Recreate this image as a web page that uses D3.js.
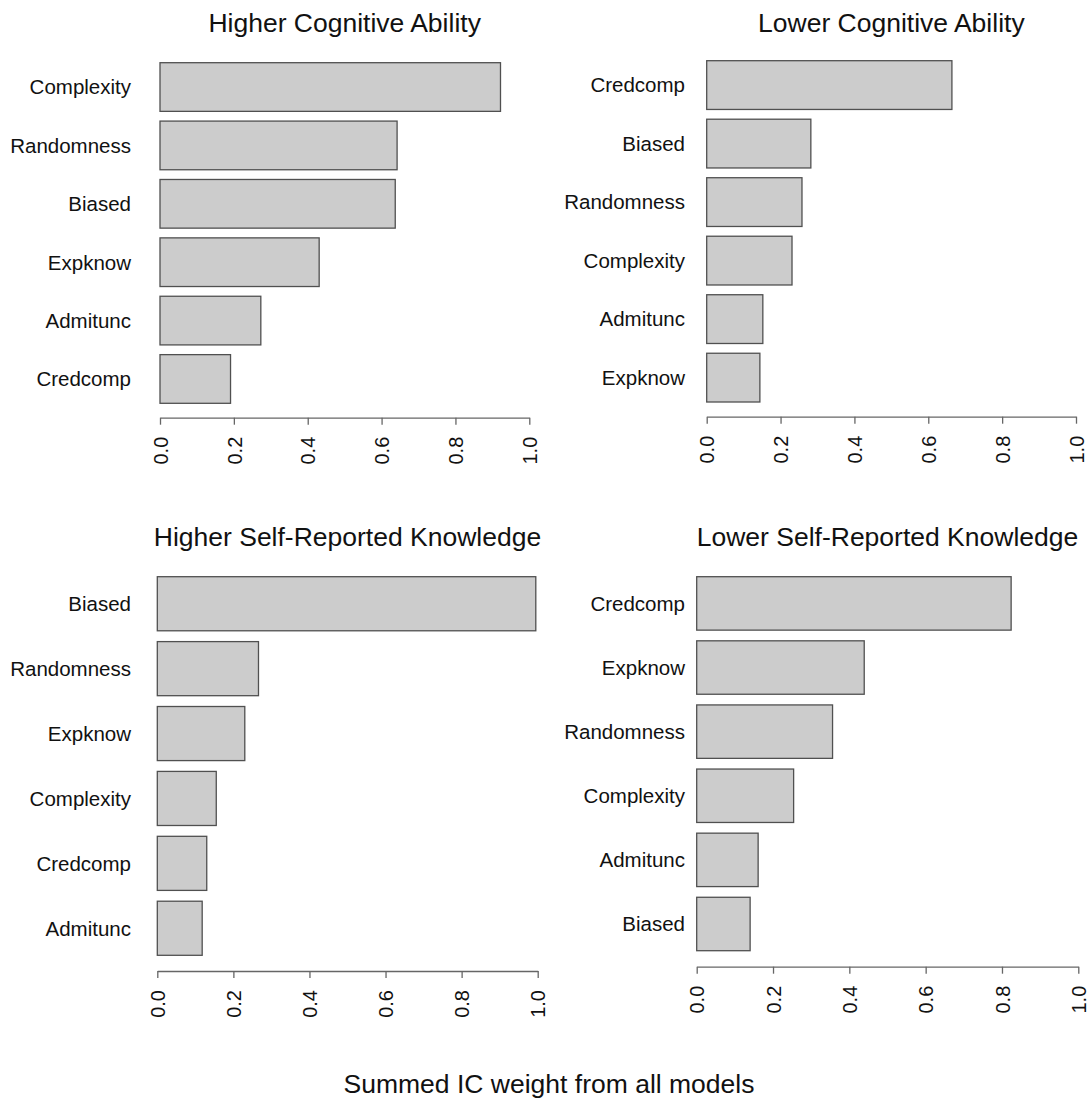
<!DOCTYPE html>
<html>
<head>
<meta charset="utf-8">
<script src="https://cdn.jsdelivr.net/npm/d3@7"></script>
<style>
  html, body { margin: 0; padding: 0; background: #ffffff; }
  svg { display: block; }
  text { font-family: "Liberation Sans", Arial, sans-serif; fill: #111; }
</style>
</head>
<body>
<svg id="chart" width="1090" height="1104"></svg>
<script>
// Summed IC weights per predictor, listed top bar first
const hcaCategories = ["Complexity", "Randomness", "Biased", "Expknow", "Admitunc", "Credcomp"];
const hcaValues     = [0.922, 0.642, 0.637, 0.431, 0.273, 0.191];

const lcaCategories = ["Credcomp", "Biased", "Randomness", "Complexity", "Admitunc", "Expknow"];
const lcaValues     = [0.664, 0.282, 0.258, 0.231, 0.152, 0.144];

const hskCategories = ["Biased", "Randomness", "Expknow", "Complexity", "Credcomp", "Admitunc"];
const hskValues     = [0.995, 0.266, 0.230, 0.155, 0.130, 0.118];

const lskCategories = ["Credcomp", "Expknow", "Randomness", "Complexity", "Admitunc", "Biased"];
const lskValues     = [0.824, 0.439, 0.356, 0.254, 0.161, 0.140];

const titles = [
  "Higher Cognitive Ability",
  "Lower Cognitive Ability",
  "Higher Self-Reported Knowledge",
  "Lower Self-Reported Knowledge"
];
const tickValues = [0, 0.2, 0.4, 0.6, 0.8, 1.0];
const xAxisTitle = "Summed IC weight from all models";

// Panel frames: x extent of the 0..1 axis, vertical extent of the bar stack,
// axis line position, title baseline and the right edge of the category labels
const panels = [
  { cats: hcaCategories, vals: hcaValues, title: titles[0],
    x0: 160, x1: 529.3, top: 62.7, bottom: 403.3, axisY: 417.7, titleY: 32, labelRight: 131 },
  { cats: lcaCategories, vals: lcaValues, title: titles[1],
    x0: 706.7, x1: 1076, top: 60.7, bottom: 402, axisY: 416.7, titleY: 32, labelRight: 685 },
  { cats: hskCategories, vals: hskValues, title: titles[2],
    x0: 157.3, x1: 537.7, top: 576.7, bottom: 955.3, axisY: 971, titleY: 546, labelRight: 131 },
  { cats: lskCategories, vals: lskValues, title: titles[3],
    x0: 696.7, x1: 1078.3, top: 576.7, bottom: 950.7, axisY: 966.7, titleY: 546, labelRight: 685 }
];

const svg = d3.select("#chart");

panels.forEach(p => {
  const g = svg.append("g");

  const x = d3.scaleLinear().domain([0, 1]).range([p.x0, p.x1]);
  // bar width 1, gap 0.2 between bars
  const y = d3.scaleBand()
    .domain(p.cats)
    .range([p.top, p.bottom])
    .paddingInner(0.2 / 1.2)
    .paddingOuter(0);

  // title centred over the axis
  g.append("text")
    .attr("x", (p.x0 + p.x1) / 2)
    .attr("y", p.titleY)
    .attr("text-anchor", "middle")
    .style("font-size", "26.5px")
    .text(p.title);

  // bars
  g.selectAll("rect.bar")
    .data(p.cats.map((c, i) => ({ cat: c, val: p.vals[i] })))
    .join("rect")
    .attr("class", "bar")
    .attr("x", x(0))
    .attr("y", d => y(d.cat))
    .attr("width", d => x(d.val) - x(0))
    .attr("height", y.bandwidth())
    .attr("fill", "#cccccc")
    .attr("stroke", "#505050")
    .attr("stroke-width", 1.3);

  // category labels
  g.selectAll("text.cat")
    .data(p.cats)
    .join("text")
    .attr("class", "cat")
    .attr("x", p.labelRight)
    .attr("y", d => y(d) + y.bandwidth() / 2)
    .attr("dy", "0.36em")
    .attr("text-anchor", "end")
    .style("font-size", "20.5px")
    .text(d => d);

  // value axis with rotated tick labels
  const axis = d3.axisBottom(x)
    .tickValues(tickValues)
    .tickFormat(d3.format(".1f"))
    .tickSizeInner(7)
    .tickSizeOuter(0)
    .tickPadding(0);

  const ax = g.append("g")
    .attr("transform", `translate(0,${p.axisY})`)
    .call(axis);

  ax.select(".domain").attr("stroke", "#666").attr("stroke-width", 1.3);
  ax.selectAll(".tick line").attr("stroke", "#666").attr("stroke-width", 1.3);
  ax.selectAll(".tick text")
    .attr("transform", "translate(0,19) rotate(-90)")
    .attr("x", 0)
    .attr("y", 0)
    .attr("dy", "0.36em")
    .attr("text-anchor", "end")
    .style("font-family", "'Liberation Sans', Arial, sans-serif")
    .style("font-size", "20px")
    .attr("fill", "#111");
});

// shared x-axis title
svg.append("text")
  .attr("x", 549)
  .attr("y", 1093)
  .attr("text-anchor", "middle")
  .style("font-size", "26.5px")
  .text(xAxisTitle);
</script>
</body>
</html>
